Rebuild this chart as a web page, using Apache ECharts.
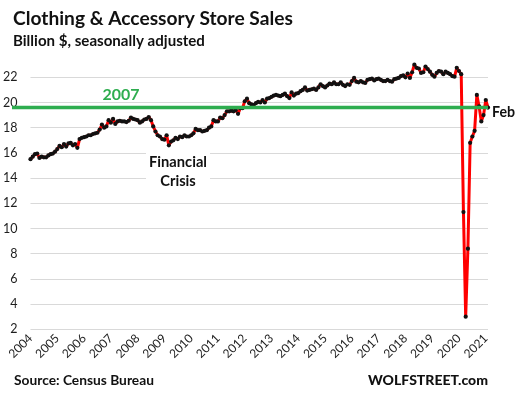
<!DOCTYPE html>
<html>
<head>
<meta charset="utf-8">
<script src="https://cdn.jsdelivr.net/npm/echarts@6.0.0/dist/echarts.min.js"></script>
<style>
html,body{margin:0;padding:0;background:#fff;}
#chart{width:517px;height:394px;}
</style>
</head>
<body>
<div id="chart"></div>
<script>
// ---- data (monthly, billion $, seasonally adjusted) ----
const years = [2004,2005,2006,2007,2008,2009,2010,2011,2012,2013,2014,2015,2016,2017,2018,2019,2020,2021];
const v2004 = [15.5, 15.7, 15.9, 15.95, 15.6, 15.7, 15.65, 15.65, 15.8, 15.9, 15.95, 16.1];
const v2005 = [16.3, 16.55, 16.45, 16.7, 16.5, 16.75, 16.8, 16.6, 16.7, 16.4, 17.1, 17.2];
const v2006 = [17.25, 17.3, 17.4, 17.4, 17.5, 17.55, 17.6, 17.85, 18.25, 18.0, 18.1, 18.6];
const v2007 = [18.4, 18.7, 18.3, 18.5, 18.55, 18.5, 18.5, 18.45, 18.55, 18.8, 18.7, 18.65];
const v2008 = [18.6, 18.4, 18.5, 18.65, 18.7, 18.85, 18.6, 18.1, 17.7, 17.4, 17.3, 17.1];
const v2009 = [17.05, 17.4, 16.6, 16.9, 17.0, 17.2, 17.1, 17.3, 17.25, 17.4, 17.3, 17.3];
const v2010 = [17.4, 17.55, 17.9, 17.8, 17.8, 17.7, 17.75, 17.8, 18.0, 18.1, 18.6, 18.5];
const v2011 = [18.5, 18.8, 18.75, 19.0, 19.3, 19.3, 19.35, 19.3, 19.4, 19.1, 19.55, 19.55];
const v2012 = [20.1, 20.3, 19.95, 19.85, 19.8, 19.95, 20.05, 20.0, 20.2, 20.0, 20.3, 20.35];
const v2013 = [20.45, 20.55, 20.6, 20.55, 20.5, 20.6, 20.7, 20.5, 20.35, 20.8, 20.55, 20.7];
const v2014 = [20.75, 20.9, 21.0, 21.2, 20.95, 21.0, 21.05, 21.1, 21.0, 21.2, 21.45, 21.3];
const v2015 = [21.2, 21.35, 21.5, 21.45, 21.6, 21.45, 21.45, 21.6, 21.4, 21.3, 21.45, 21.4];
const v2016 = [21.7, 21.95, 21.65, 21.6, 21.7, 21.6, 21.55, 21.8, 21.85, 21.9, 21.75, 21.85];
const v2017 = [21.9, 21.8, 21.7, 21.7, 21.8, 21.7, 21.65, 21.85, 21.9, 21.95, 22.1, 22.15];
const v2018 = [22.0, 22.3, 21.95, 22.4, 23.0, 22.75, 22.7, 22.35, 22.4, 22.85, 22.65, 22.45];
const v2019 = [22.2, 22.05, 22.35, 22.5, 22.45, 22.25, 22.45, 22.35, 22.25, 22.1, 22.05, 22.75];
const v2020 = [22.5, 22.25, 11.3, 3.0, 8.4, 16.8, 17.3, 17.75, 20.6, 19.7, 18.5, 19.0];
const v2021 = [20.2, 19.6];
const level2007 = 19.6;
const yTicks = [2,4,6,8,10,12,14,16,18,20,22];

// ---- build ----
const sales = [].concat(v2004,v2005,v2006,v2007,v2008,v2009,v2010,v2011,v2012,v2013,v2014,v2015,v2016,v2017,v2018,v2019,v2020,v2021);
const months = [];
years.forEach(y => { for (let m = 1; m <= 12; m++) months.push(y + '-' + (m < 10 ? '0' + m : m)); });
months.length = sales.length;

const FONT = 'Lato';
const ctx = document.createElement('canvas').getContext('2d');
function fit(text, weight, width) {
  ctx.font = weight + ' 20px ' + FONT;
  const w = ctx.measureText(text).width || width;
  return weight + ' ' + (20 * width / w).toFixed(2) + 'px ' + FONT;
}

const chart = echarts.init(document.getElementById('chart'), null, {renderer:'canvas'});
chart.setOption({
  animation: false,
  backgroundColor: '#fff',
  grid: [
    {left: 30, right: 29, top: 52.1, bottom: 64.7},
    {left: 12, right: 29, top: 52.1, bottom: 64.7}
  ],
  xAxis: [
    {
      type: 'category', data: months, boundaryGap: false, gridIndex: 0,
      axisLine: {show: false}, axisTick: {show: false},
      axisLabel: {
        interval: (i) => i % 12 === 0,
        formatter: (v) => v.slice(0, 4),
        rotate: 45, margin: 7,
        fontFamily: FONT, fontSize: 12, color: '#1e1e1e'
      },
      splitLine: {show: false}
    },
    {type: 'value', gridIndex: 1, min: 0, max: 1, show: false}
  ],
  yAxis: [
    {
      type: 'value', gridIndex: 0, min: 2, max: 24, interval: 2,
      axisLine: {show: false}, axisTick: {show: false},
      axisLabel: {
        showMaxLabel: false, margin: 13,
        formatter: (v) => yTicks.indexOf(v) >= 0 ? String(v) : '',
        fontFamily: FONT, fontSize: 12.5, color: '#1e1e1e'
      },
      splitLine: {show: true, showMaxLine: false, lineStyle: {color: '#d9d9d9', width: 1}}
    },
    {type: 'value', gridIndex: 1, min: 2, max: 24, show: false}
  ],
  series: [
    {
      type: 'line', data: sales, xAxisIndex: 0, yAxisIndex: 0,
      symbol: 'circle', symbolSize: 4.2, showSymbol: true, showAllSymbol: true,
      lineStyle: {color: '#ff0000', width: 3},
      itemStyle: {color: '#111', borderWidth: 0},
      z: 3
    },
    {
      type: 'line', data: [[0, level2007], [1, level2007]], xAxisIndex: 1, yAxisIndex: 1,
      symbol: 'none', lineStyle: {color: '#2ead4f', width: 3.5}, z: 4
    }
  ],
  graphic: [
    {type: 'text', x: 13, y: 19, z: 10, style: {text: 'Clothing & Accessory Store Sales', font: fit('Clothing & Accessory Store Sales', 'bold', 280), fill: '#111', verticalAlign: 'middle'}},
    {type: 'text', x: 13, y: 41.5, z: 10, style: {text: 'Billion $, seasonally adjusted', font: fit('Billion $, seasonally adjusted', 'bold', 192), fill: '#111', verticalAlign: 'middle'}},
    {type: 'text', x: 121, y: 95, z: 10, style: {text: '2007', font: fit('2007', 'bold', 37), fill: '#2ead4f', align: 'center', verticalAlign: 'middle'}},
    {type: 'text', x: 178, y: 172, z: 10, style: {text: 'Financial\nCrisis', font: fit('Financial', 'bold', 58), lineHeight: 19, fill: '#111', align: 'center', verticalAlign: 'middle', backgroundColor: '#fff', padding: [0, 3]}},
    {type: 'text', x: 492, y: 112, z: 10, style: {text: 'Feb', font: fit('Feb', 'bold', 23), fill: '#111', align: 'left', verticalAlign: 'middle'}},
    {type: 'text', x: 14, y: 381, z: 10, style: {text: 'Source: Census Bureau', font: fit('Source: Census Bureau', 'bold', 140), fill: '#111', align: 'left', verticalAlign: 'middle'}},
    {type: 'text', x: 488, y: 380, z: 10, style: {text: 'WOLFSTREET.com', font: fit('WOLFSTREET.com', '900', 120), fill: '#111', align: 'right', verticalAlign: 'middle'}}
  ]
});
</script>
</body>
</html>
